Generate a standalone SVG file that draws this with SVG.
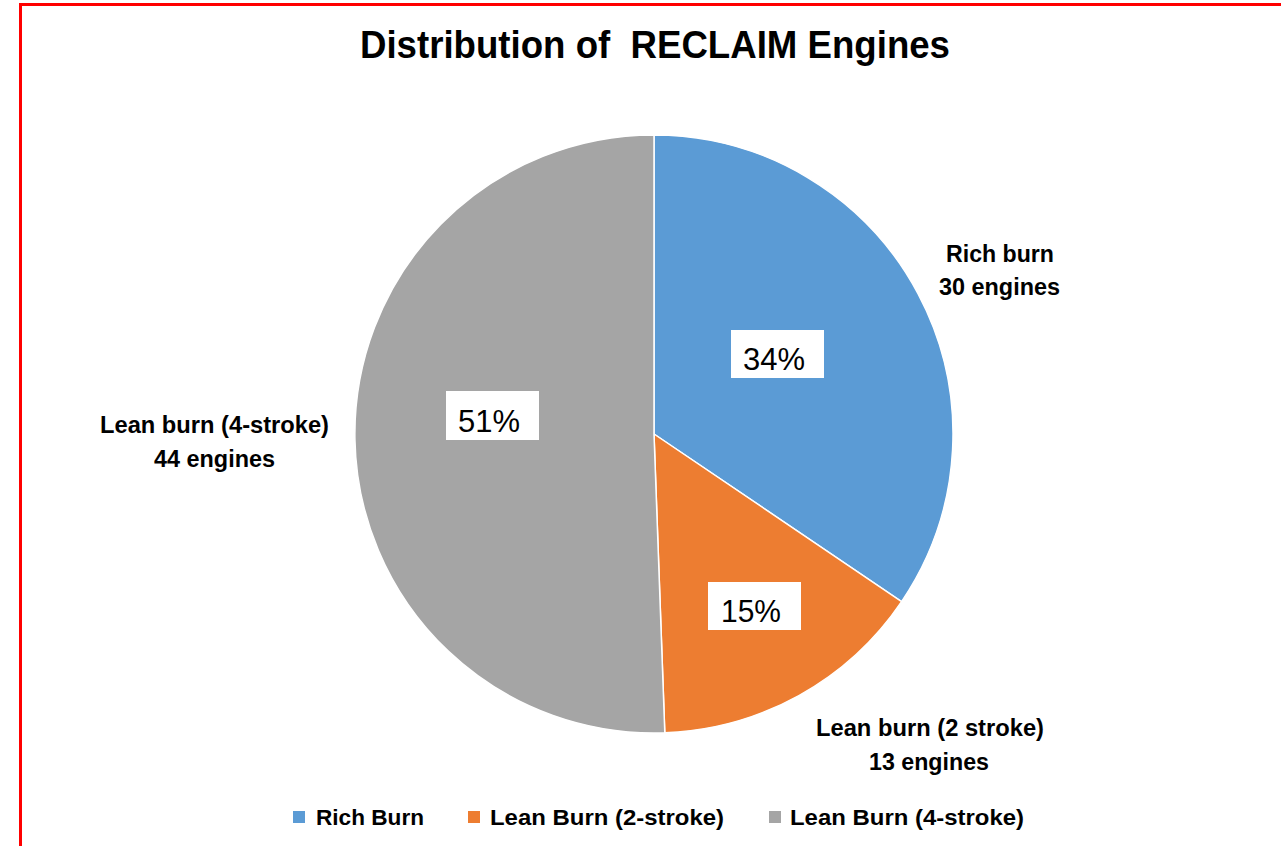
<svg xmlns="http://www.w3.org/2000/svg" width="1281" height="846" viewBox="0 0 1281 846">
<style>
.t{font-family:"Liberation Sans",Arial,sans-serif;fill:#000}
.b{font-weight:bold}
.lbl{font-size:23.5px;font-weight:bold}
.pct{font-size:31px}
.leg{font-size:22.5px;font-weight:bold}
.box{fill:#fff}
.sep{stroke:#fff;stroke-width:1.5}
</style>
<rect x="0" y="0" width="1281" height="846" fill="#fff"/>
<rect x="20.5" y="4.5" width="1300" height="900" fill="#fff" stroke="#f00" stroke-width="3"/>
<text class="t b" x="360" y="58" font-size="39" textLength="590" lengthAdjust="spacingAndGlyphs" xml:space="preserve" style="white-space:pre">Distribution of  RECLAIM Engines</text>
<g id="connectors"></g>
<g id="slice-rich">
<path d="M654,434 L654,135 A299,299 0 0 1 901.6,601.6 Z" fill="#5B9BD5" class="sep"/>
</g>
<g id="slice-lean2">
<path d="M654,434 L901.6,601.6 A299,299 0 0 1 664.8,732.8 Z" fill="#ED7D31" class="sep"/>
</g>
<g id="slice-lean4">
<path d="M654,434 L664.8,732.8 A299,299 0 1 1 654,135 Z" fill="#A5A5A5" class="sep"/>
</g>
<g id="pct-rich">
<rect class="box" x="731" y="330" width="93" height="48"/>
<text class="t pct" x="743" y="370" textLength="62" lengthAdjust="spacingAndGlyphs">34%</text>
</g>
<g id="pct-lean4">
<rect class="box" x="446" y="391" width="93" height="49"/>
<text class="t pct" x="458" y="432" textLength="62" lengthAdjust="spacingAndGlyphs">51%</text>
</g>
<g id="pct-lean2">
<rect class="box" x="708" y="582" width="93" height="48"/>
<text class="t pct" x="721" y="622" textLength="60" lengthAdjust="spacingAndGlyphs">15%</text>
</g>
<g id="label-rich">
<text class="t lbl" x="946" y="262" textLength="108" lengthAdjust="spacingAndGlyphs">Rich burn</text>
<text class="t lbl" x="939" y="295" textLength="121" lengthAdjust="spacingAndGlyphs">30 engines</text>
</g>
<g id="label-lean4">
<text class="t lbl" x="100" y="433" textLength="229" lengthAdjust="spacingAndGlyphs">Lean burn (4-stroke)</text>
<text class="t lbl" x="154" y="467" textLength="121" lengthAdjust="spacingAndGlyphs">44 engines</text>
</g>
<g id="label-lean2">
<text class="t lbl" x="816" y="736" textLength="228" lengthAdjust="spacingAndGlyphs">Lean burn (2 stroke)</text>
<text class="t lbl" x="869" y="770" textLength="120" lengthAdjust="spacingAndGlyphs">13 engines</text>
</g>
<g id="legend">
<rect x="293" y="811" width="12" height="12" fill="#5B9BD5"/>
<text class="t leg" x="316" y="825" textLength="108" lengthAdjust="spacingAndGlyphs">Rich Burn</text>
<rect x="468" y="811" width="12" height="12" fill="#ED7D31"/>
<text class="t leg" x="490" y="825" textLength="234" lengthAdjust="spacingAndGlyphs">Lean Burn (2-stroke)</text>
<rect x="769" y="811" width="12" height="12" fill="#A5A5A5"/>
<text class="t leg" x="790" y="825" textLength="234" lengthAdjust="spacingAndGlyphs">Lean Burn (4-stroke)</text>
</g>
</svg>
